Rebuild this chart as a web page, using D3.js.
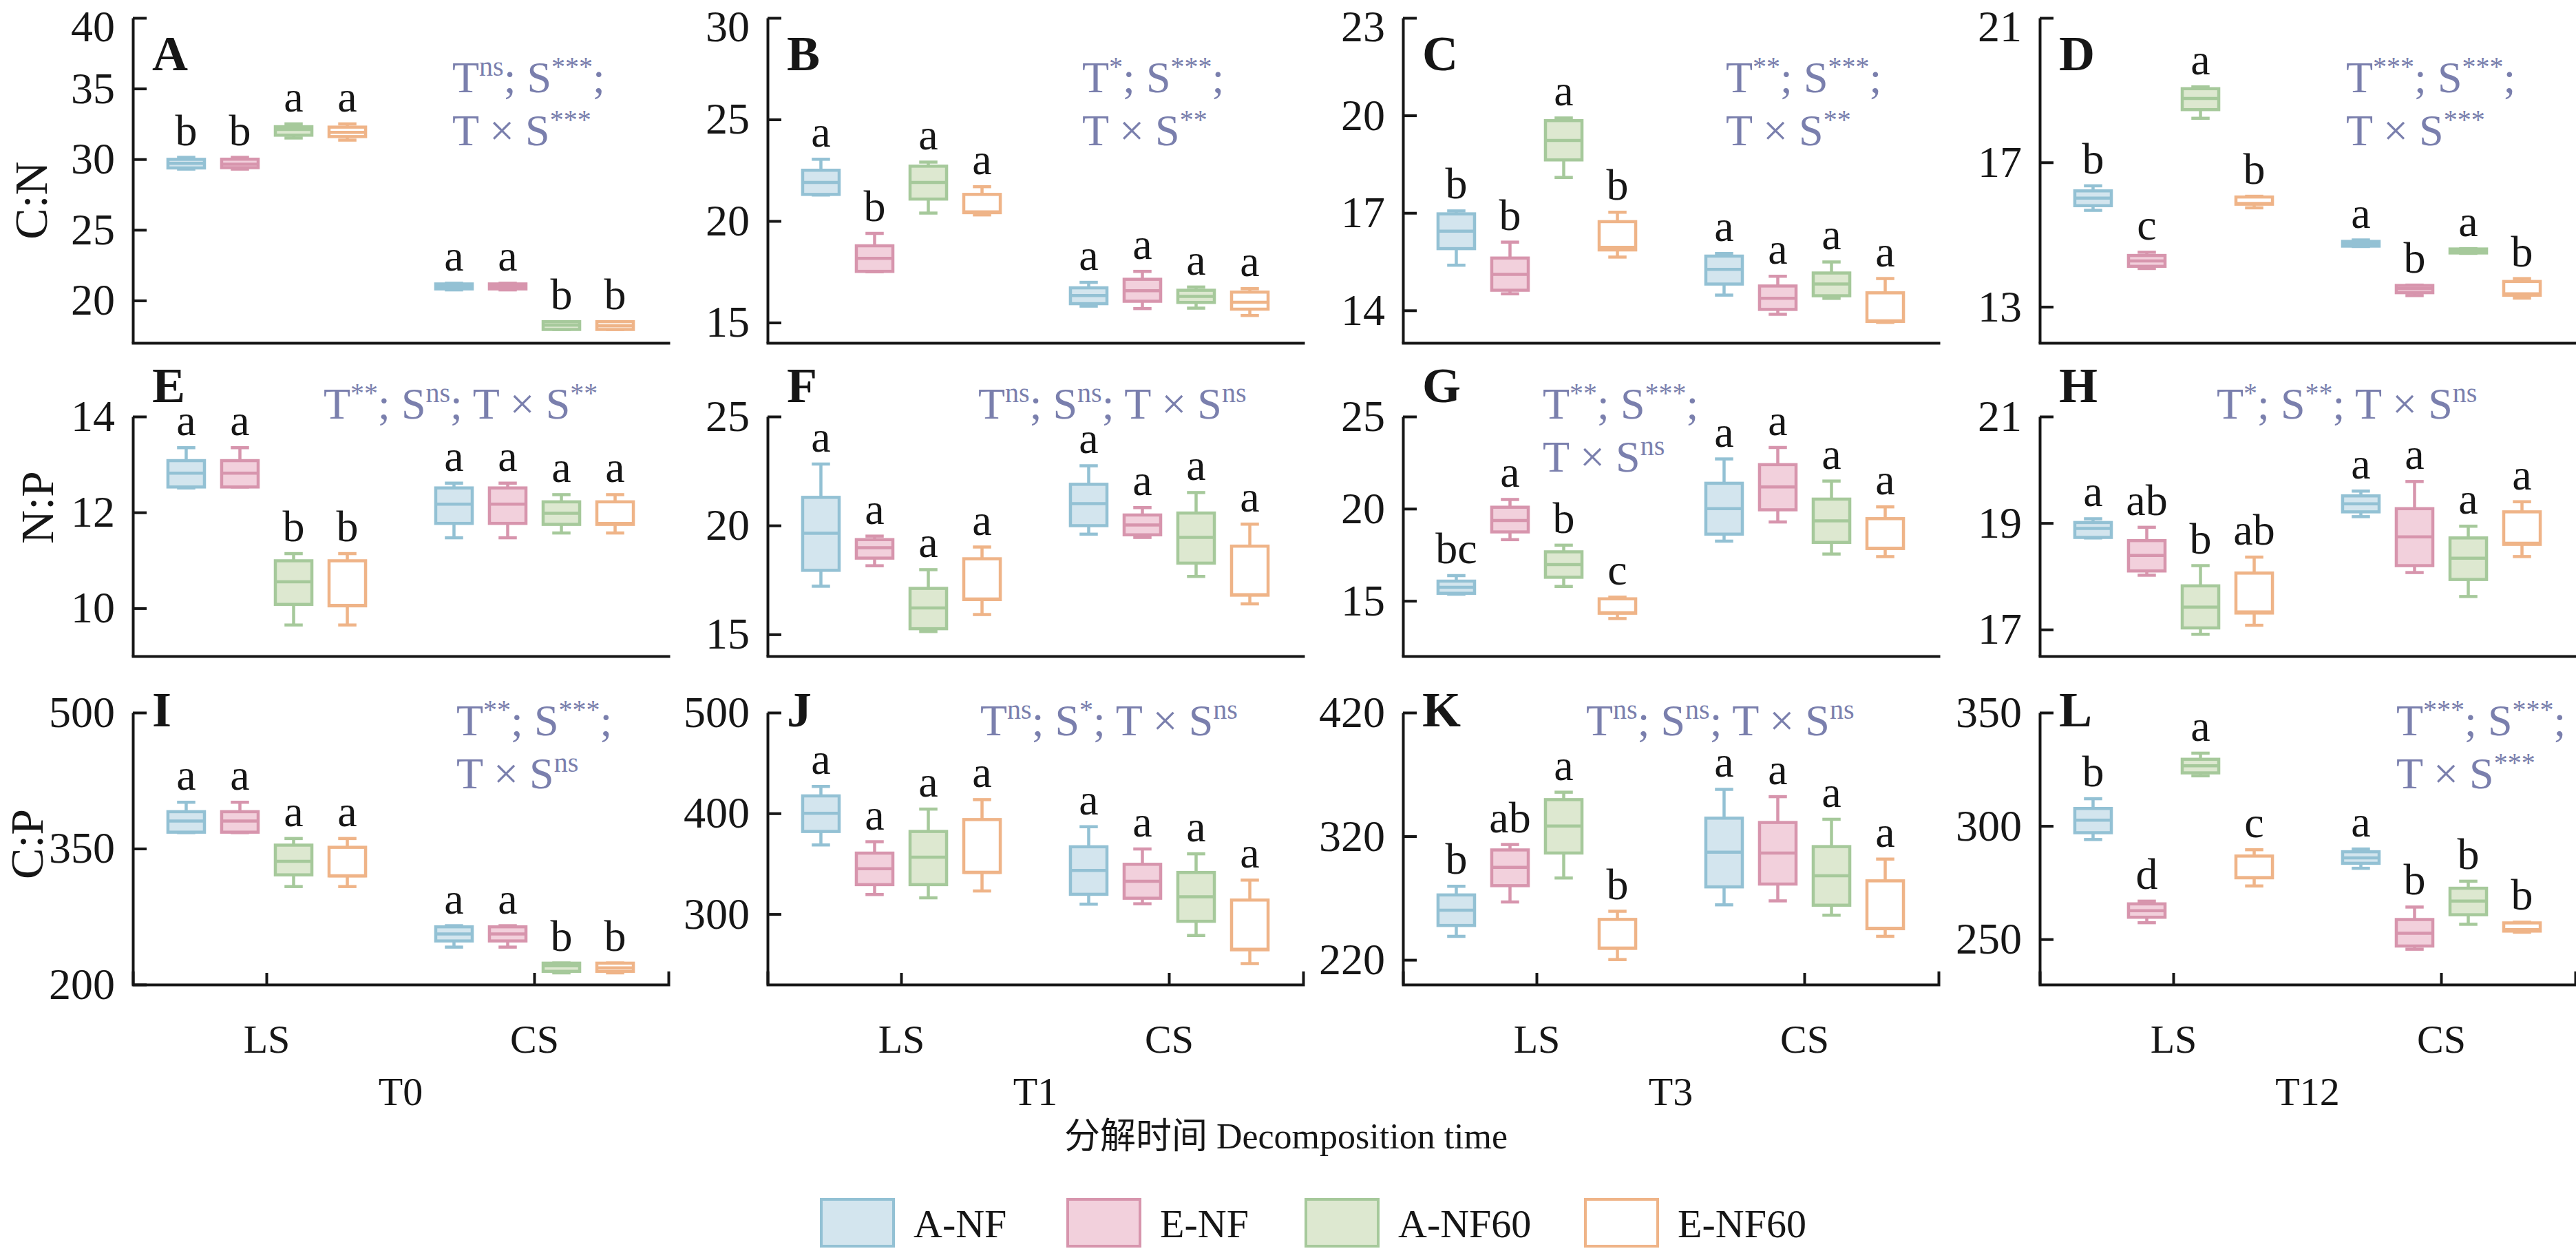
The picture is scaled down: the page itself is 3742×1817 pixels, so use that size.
<!DOCTYPE html>
<html>
<head>
<meta charset="utf-8">
<script src="https://cdn.jsdelivr.net/npm/d3@7"></script>
<style>
html, body { margin: 0; padding: 0; background: #fff; }
svg { display: block; }
text { font-family: "Liberation Serif", "Times New Roman", "Noto Sans CJK SC", serif; white-space: pre; }
</style>
</head>
<body>
<svg id="chart" width="3742" height="1817"></svg>
<script>
// ---- data ----
var times = ["T0", "T1", "T3", "T12"];
var ratios = ["C:N", "N:P", "C:P"];
var sites = ["LS", "CS"];
var series = ["A-NF", "E-NF", "A-NF60", "E-NF60"];
var panelIds = ["A", "B", "C", "D", "E", "F", "G", "H", "I", "J", "K", "L"];

// each box: [min, q1, median, q3, max]; LS boxes first, then CS, in series order
var cnT0 = [[29.3, 29.38, 29.7, 29.99, 30.13], [29.3, 29.4, 29.65, 30.0, 30.13], [31.5, 31.7, 32.1, 32.3, 32.5], [31.35, 31.6, 31.9, 32.27, 32.5],
            [20.75, 20.82, 21.0, 21.17, 21.22], [20.75, 20.82, 20.98, 21.17, 21.22], [17.95, 17.95, 18.25, 18.5, 18.5], [17.95, 17.95, 18.2, 18.5, 18.5]];
var cnT1 = [[21.28, 21.31, 21.9, 22.5, 23.04], [17.5, 17.52, 18.16, 18.78, 19.39], [20.39, 21.08, 21.9, 22.7, 22.9], [20.3, 20.41, 20.45, 21.31, 21.69],
            [15.81, 15.93, 16.33, 16.71, 16.98], [15.69, 16.05, 16.57, 17.13, 17.52], [15.71, 15.99, 16.29, 16.59, 16.75], [15.35, 15.66, 16.0, 16.5, 16.67]];
var cnT3 = [[15.39, 15.9, 16.44, 16.97, 17.06], [14.51, 14.62, 15.11, 15.61, 16.1], [18.09, 18.63, 19.23, 19.84, 19.92], [15.64, 15.86, 15.94, 16.73, 17.02],
            [14.47, 14.81, 15.26, 15.67, 15.75], [13.88, 14.03, 14.37, 14.75, 15.05], [14.37, 14.45, 14.81, 15.15, 15.49], [13.63, 13.66, 13.68, 14.54, 14.98]];
var cnT12 = [[15.67, 15.8, 16.01, 16.21, 16.35], [14.06, 14.12, 14.27, 14.42, 14.51], [18.22, 18.46, 18.77, 19.04, 19.09], [15.74, 15.84, 15.86, 16.04, 16.06],
             [14.67, 14.68, 14.75, 14.81, 14.85], [13.31, 13.39, 13.5, 13.59, 13.6], [14.48, 14.49, 14.55, 14.6, 14.61], [13.24, 13.32, 13.36, 13.7, 13.78]];
var npT0 = [[12.51, 12.53, 12.82, 13.08, 13.35], [12.53, 12.53, 12.82, 13.08, 13.35], [9.65, 10.08, 10.55, 10.99, 11.14], [9.65, 10.05, 10.06, 10.99, 11.14],
            [11.47, 11.77, 12.17, 12.51, 12.61], [11.47, 11.77, 12.17, 12.51, 12.61], [11.57, 11.75, 11.98, 12.22, 12.37], [11.57, 11.75, 11.77, 12.22, 12.37]];
var npT1 = [[17.21, 17.94, 19.64, 21.29, 22.82], [18.15, 18.5, 18.98, 19.35, 19.51], [15.13, 15.26, 16.21, 17.11, 17.97], [15.91, 16.6, 16.62, 18.47, 19.01],
            [19.6, 19.99, 21.0, 21.89, 22.74], [19.45, 19.57, 20.02, 20.48, 20.82], [17.66, 18.27, 19.45, 20.57, 21.51], [16.4, 16.8, 16.82, 19.05, 20.06]];
var npT3 = [[15.36, 15.41, 15.74, 16.07, 16.37], [18.32, 18.74, 19.36, 20.08, 20.5], [15.78, 16.28, 16.97, 17.66, 18.02], [14.04, 14.33, 14.35, 15.11, 15.2],
            [18.24, 18.62, 20.0, 21.38, 22.7], [19.28, 19.94, 21.18, 22.39, 23.32], [17.54, 18.17, 19.34, 20.52, 21.5], [17.4, 17.84, 17.86, 19.46, 20.1]];
var npT12 = [[18.72, 18.73, 18.9, 19.01, 19.08], [18.02, 18.1, 18.39, 18.67, 18.92], [16.91, 17.03, 17.42, 17.82, 18.2], [17.08, 17.31, 17.33, 18.06, 18.36],
             [19.12, 19.21, 19.36, 19.51, 19.6], [18.07, 18.2, 18.74, 19.27, 19.78], [17.62, 17.94, 18.34, 18.72, 18.94], [18.37, 18.6, 18.62, 19.21, 19.4]];
var cpT0 = [[367.6, 368.1, 380.3, 390.7, 401.1], [367.6, 368.1, 380.3, 390.7, 401.1], [308.1, 321.0, 336.0, 353.8, 361.1], [308.1, 319.8, 320.0, 351.4, 361.1],
            [241.3, 248.1, 255.9, 263.7, 264.9], [241.3, 248.1, 255.9, 263.7, 264.9], [212.9, 214.6, 220.7, 223.6, 223.8], [212.9, 214.6, 218.5, 223.6, 223.8]];
var cpT1 = [[368.6, 382.0, 400.1, 417.3, 426.7], [319.4, 329.2, 345.0, 360.5, 371.8], [316.1, 329.2, 356.4, 382.0, 404.2], [322.9, 341.3, 341.5, 393.8, 413.6],
            [309.8, 319.6, 343.3, 366.8, 386.7], [310.2, 315.7, 332.6, 349.4, 364.6], [278.7, 292.8, 317.2, 341.3, 359.8], [250.8, 264.5, 265.0, 313.9, 333.7]];
var cpT3 = [[239.0, 247.8, 260.1, 272.5, 279.5], [266.8, 280.0, 294.8, 308.9, 313.3], [286.2, 306.4, 328.3, 349.6, 355.6], [220.2, 229.3, 229.5, 252.7, 259.3],
            [264.5, 279.0, 307.1, 334.6, 357.9], [267.7, 281.3, 306.4, 331.1, 352.0], [256.1, 264.2, 288.0, 311.6, 333.7], [239.0, 245.2, 245.5, 283.9, 301.5]];
var cpT12 = [[294.0, 297.0, 302.5, 307.7, 312.0], [257.3, 259.7, 262.6, 265.6, 266.8], [322.1, 323.4, 326.5, 329.4, 332.1], [273.5, 277.1, 277.2, 286.7, 289.5],
             [281.3, 283.5, 285.9, 288.6, 289.8], [245.6, 247.0, 252.6, 258.7, 264.2], [256.6, 260.8, 266.8, 272.5, 275.6], [253.1, 253.6, 254.2, 257.2, 257.5]];

// significance letters, same order as the boxes
var lettersCN = [["b","b","a","a","a","a","b","b"], ["a","b","a","a","a","a","a","a"], ["b","b","a","b","a","a","a","a"], ["b","c","a","b","a","b","a","b"]];
var lettersNP = [["a","a","b","b","a","a","a","a"], ["a","a","a","a","a","a","a","a"], ["bc","a","b","c","a","a","a","a"], ["a","ab","b","ab","a","a","a","a"]];
var lettersCP = [["a","a","a","a","a","a","b","b"], ["a","a","a","a","a","a","a","a"], ["b","ab","a","b","a","a","a","a"], ["b","d","a","c","a","b","b","b"]];

// y domains and tick values per panel
var domainsCN = [[17, 40], [14, 30], [13, 23], [12, 21]];
var domainsNP = [[9, 14], [14, 25], [12, 25], [16.5, 21]];
var domainsCP = [[200, 500], [230, 500], [200, 420], [230, 350]];
var ticksCN = [[20, 25, 30, 35, 40], [15, 20, 25, 30], [14, 17, 20, 23], [13, 17, 21]];
var ticksNP = [[10, 12, 14], [15, 20, 25], [15, 20, 25], [17, 19, 21]];
var ticksCP = [[200, 350, 500], [300, 400, 500], [220, 320, 420], [250, 300, 350]];

// two-way ANOVA notes ("^" starts a superscript, "|" breaks the line)
var anovaCN = ["T^ns; S^***;|T × S^***", "T^*; S^***;|T × S^**", "T^**; S^***;|T × S^**", "T^***; S^***;|T × S^***"];
var anovaNP = ["T^**; S^ns; T × S^**", "T^ns; S^ns; T × S^ns", "T^**; S^***;|T × S^ns", "T^*; S^**; T × S^ns"];
var anovaCP = ["T^**; S^***;|T × S^ns", "T^ns; S^*; T × S^ns", "T^ns; S^ns; T × S^ns", "T^***; S^***;|T × S^***"];

// ---- layout ----
var panelX = [193, 1115, 2038, 2963];
var panelW = 778;
var rowTop = [26, 605, 1035];
var rowBottom = [498, 953, 1430];
var titleX = [44, 53, 38];
var titleY = [291, 737, 1226];
var letterY = [102, 584, 1055];
// ANOVA note position: x offset from the y axis, first baseline
var anovaDx = [[464, 457, 469, 445], [277, 306, 203, 257], [470, 309, 266, 518]];
var anovaY = [134, 608, 1068];

var strokeCol = {"A-NF": "#93c1d4", "E-NF": "#d795ad", "A-NF60": "#a6c99b", "E-NF60": "#efb488"};
var fillCol = {"A-NF": "#d3e5ee", "E-NF": "#f2d0dc", "A-NF60": "#dde8d0", "E-NF60": "#ffffff"};
var noteCol = "#7a7fad";
var ink = "#161616";

var statsByRow = [[cnT0, cnT1, cnT3, cnT12], [npT0, npT1, npT3, npT12], [cpT0, cpT1, cpT3, cpT12]];
var lettersByRow = [lettersCN, lettersNP, lettersCP];
var domainsByRow = [domainsCN, domainsNP, domainsCP];
var ticksByRow = [ticksCN, ticksNP, ticksCP];
var anovaByRow = [anovaCN, anovaNP, anovaCP];

var svg = d3.select("#chart");

var x0 = d3.scaleBand().domain(sites).range([0, panelW]);
var x1 = d3.scaleBand().domain(series).range([0, x0.bandwidth()])
	.paddingInner(0.32).paddingOuter(0.653);
var capW = x1.bandwidth() * 0.5;

function drawNote(g, str, x, y) {
	var lines = str.split("|");
	lines.forEach(function(line, li) {
		var t = g.append("text")
			.attr("x", x)
			.attr("y", y + li * 77)
			.attr("fill", noteCol)
			.attr("font-size", 64);
		var parts = line.split(/(\^[^;\s]+)/).filter(function(p) { return p.length > 0; });
		var up = false;
		parts.forEach(function(p) {
			if (p.charAt(0) == "^") {
				t.append("tspan").attr("font-size", 40).attr("dy", -24).text(p.slice(1));
				up = true;
			} else {
				t.append("tspan").attr("dy", up ? 24 : 0).text(p);
				up = false;
			}
		});
	});
}

for (var row = 0; row < 3; row++) {
	for (var col = 0; col < 4; col++) {
		var stats = statsByRow[row][col];
		var lets = lettersByRow[row][col];
		var boxes = stats.map(function(s, i) {
			return {site: sites[Math.floor(i / 4)], ser: series[i % 4], s: s, letter: lets[i]};
		});

		var y = d3.scaleLinear().domain(domainsByRow[row][col]).range([rowBottom[row], rowTop[row]]);
		var g = svg.append("g").attr("transform", "translate(" + panelX[col] + ",0)");

		// boxes
		var bg = g.selectAll(".box").data(boxes).enter()
			.append("g")
				.attr("class", "box")
				.attr("transform", function(d) { return "translate(" + (x0(d.site) + x1(d.ser)) + ",0)"; });
		var bw = x1.bandwidth();
		bg.each(function(d) {
			var b = d3.select(this);
			var c = strokeCol[d.ser];
			var cx = bw / 2;
			b.append("line").attr("x1", cx).attr("x2", cx).attr("y1", y(d.s[4])).attr("y2", y(d.s[3]))
				.attr("stroke", c).attr("stroke-width", 4.5);
			b.append("line").attr("x1", cx).attr("x2", cx).attr("y1", y(d.s[1])).attr("y2", y(d.s[0]))
				.attr("stroke", c).attr("stroke-width", 4.5);
			b.append("line").attr("x1", cx - capW / 2).attr("x2", cx + capW / 2).attr("y1", y(d.s[4])).attr("y2", y(d.s[4]))
				.attr("stroke", c).attr("stroke-width", 4.5);
			b.append("line").attr("x1", cx - capW / 2).attr("x2", cx + capW / 2).attr("y1", y(d.s[0])).attr("y2", y(d.s[0]))
				.attr("stroke", c).attr("stroke-width", 4.5);
			b.append("rect")
				.attr("x", 0).attr("width", bw)
				.attr("y", y(d.s[3])).attr("height", Math.max(1, y(d.s[1]) - y(d.s[3])))
				.attr("fill", fillCol[d.ser]).attr("stroke", c).attr("stroke-width", 4.5);
			b.append("line").attr("x1", 0).attr("x2", bw).attr("y1", y(d.s[2])).attr("y2", y(d.s[2]))
				.attr("stroke", c).attr("stroke-width", 4.5);
			b.append("text")
				.attr("x", cx).attr("y", y(d.s[4]) - 18)
				.attr("text-anchor", "middle")
				.attr("font-size", 64).attr("fill", ink)
				.text(d.letter);
		});

		// axes
		var tv = ticksByRow[row][col];
		var ya = g.append("g")
			.call(d3.axisLeft(y).tickValues(tv).tickFormat(function(d) { return String(d); })
				.tickSize(-20).tickSizeOuter(0).tickPadding(26));
		ya.selectAll("text").attr("font-size", 64).attr("fill", ink).attr("font-family", null);
		if (row == 0) {
			// top label sits a little lower so it stays inside the page
			ya.selectAll(".tick text").filter(function(d) { return d == tv[tv.length - 1]; })
				.attr("dy", "0.52em");
		}
		ya.selectAll("line").attr("stroke", ink).attr("stroke-width", 4);
		ya.select(".domain").attr("stroke", ink).attr("stroke-width", 4);

		var xa = d3.axisBottom(x0).tickSizeOuter(0);
		if (row == 2) {
			xa.tickSize(-17).tickPadding(58);
		} else {
			xa.tickSize(0).tickFormat("");
		}
		var xg = g.append("g").attr("transform", "translate(0," + rowBottom[row] + ")").call(xa);
		xg.selectAll("text").attr("font-size", 58).attr("fill", ink).attr("font-family", null);
		xg.selectAll("line").attr("stroke", ink).attr("stroke-width", 4);
		xg.select(".domain").attr("stroke", ink).attr("stroke-width", 4).attr("stroke-linecap", "square");

		// panel letter
		g.append("text")
			.attr("x", 28).attr("y", letterY[row])
			.attr("font-size", 72).attr("font-weight", "bold").attr("fill", ink)
			.text(panelIds[row * 4 + col]);

		drawNote(g, anovaByRow[row][col], anovaDx[row][col], anovaY[row]);

		if (row == 2) {
			g.append("text")
				.attr("x", panelW / 2).attr("y", 1605)
				.attr("text-anchor", "middle").attr("font-size", 58).attr("fill", ink)
				.text(times[col]);
		}
	}

	svg.append("text")
		.attr("transform", "translate(" + titleX[row] + "," + titleY[row] + ") rotate(-90)")
		.attr("dy", "0.35em")
		.attr("text-anchor", "middle").attr("font-size", 68).attr("fill", ink)
		.text(ratios[row]);
}

svg.append("text")
	.attr("x", 1868).attr("y", 1668)
	.attr("text-anchor", "middle").attr("font-size", 52).attr("fill", ink)
	.text("分解时间 Decomposition time");

// legend
var legendX = [1193, 1551, 1897, 2303];
var lg = svg.selectAll(".legend").data(series).enter()
	.append("g")
		.attr("class", "legend")
		.attr("transform", function(d, i) { return "translate(" + legendX[i] + ",1742)"; });
lg.append("rect")
	.attr("width", 105).attr("height", 68)
	.attr("fill", function(d) { return fillCol[d]; })
	.attr("stroke", function(d) { return strokeCol[d]; })
	.attr("stroke-width", 4);
lg.append("text")
	.attr("x", 134).attr("y", 55)
	.attr("font-size", 58).attr("fill", ink)
	.text(function(d) { return d; });
</script>
</body>
</html>
